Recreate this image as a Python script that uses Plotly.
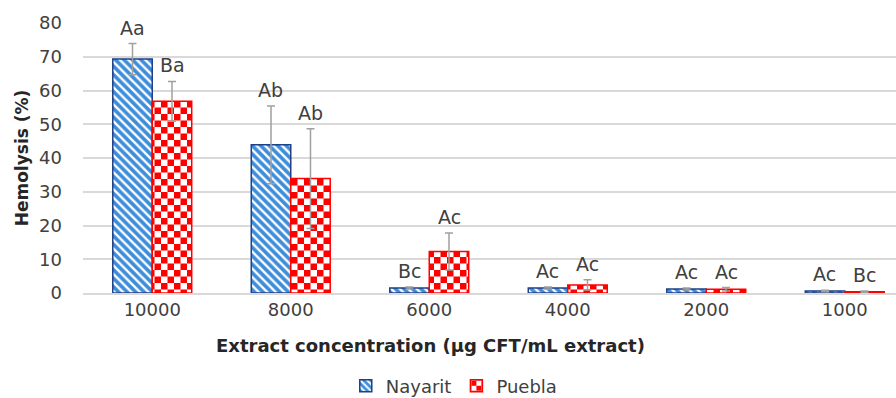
import plotly.graph_objects as go

categories = ["10000", "8000", "6000", "4000", "2000", "1000"]
nayarit = [69.3, 43.9, 1.5, 1.5, 1.2, 0.6]
nayarit_err = [4.6, 11.5, 0.3, 0.3, 0.3, 0.2]
nayarit_letters = ["Aa", "Ab", "Bc", "Ac", "Ac", "Ac"]
puebla = [56.8, 33.9, 12.3, 2.4, 1.1, 0.4]
puebla_err = [5.9, 14.8, 5.5, 1.5, 0.5, 0.2]
puebla_letters = ["Ba", "Ab", "Ac", "Ac", "Ac", "Bc"]
y_ticks = [0, 10, 20, 30, 40, 50, 60, 70, 80]

FONT = "DejaVu Sans, Arial, sans-serif"

fig = go.Figure()
fig.add_trace(go.Bar(
    name="Nayarit", x=categories, y=nayarit,
    error_y=dict(type="data", array=nayarit_err, color="#a0a0a0", thickness=1.5, width=4),
    marker=dict(
        color="#3d8ddb",
        line=dict(color="#1f3f86", width=1.5),
        pattern=dict(shape="\\", fgcolor="#ffffff", bgcolor="#3d8ddb", size=6, solidity=0.4, fillmode="replace"),
    ),
))
fig.add_trace(go.Bar(
    name="Puebla", x=categories, y=puebla,
    error_y=dict(type="data", array=puebla_err, color="#a0a0a0", thickness=1.5, width=4),
    marker=dict(
        color="#ff0000",
        line=dict(color="#ff0000", width=1.5),
        pattern=dict(shape=".", fgcolor="#ff0000", bgcolor="#ffffff", size=9, solidity=0.5, fillmode="replace"),
    ),
))

annotations = []
for i, (v, e, t) in enumerate(zip(nayarit, nayarit_err, nayarit_letters)):
    annotations.append(dict(x=i, y=v + e, xref="x", yref="y", text=t, showarrow=False,
                            xshift=-20, yshift=3, yanchor="bottom",
                            font=dict(family=FONT, size=19, color="#404040")))
for i, (v, e, t) in enumerate(zip(puebla, puebla_err, puebla_letters)):
    annotations.append(dict(x=i, y=v + e, xref="x", yref="y", text=t, showarrow=False,
                            xshift=20, yshift=3, yanchor="bottom",
                            font=dict(family=FONT, size=19, color="#404040")))
annotations.append(dict(x=0.428, y=-0.196, xref="paper", yref="paper", yanchor="middle",
                        text="<b>Extract concentration (µg CFT/mL extract)</b>", showarrow=False,
                        font=dict(family=FONT, size=18, color="#262626")))

fig.update_layout(
    width=896, height=398,
    margin=dict(l=83, r=0, t=23, b=105),
    paper_bgcolor="white", plot_bgcolor="white",
    barmode="group", bargap=0.43, bargroupgap=0,
    font=dict(family=FONT, size=18, color="#404040"),
    showlegend=True,
    annotations=annotations,
    legend=dict(orientation="h", xref="container", yref="container",
                x=0.507, xanchor="center", y=0.03, yanchor="middle",
                font=dict(family=FONT, size=18, color="#404040"), tracegroupgap=0),
    xaxis=dict(
        type="category", automargin=False,
        range=[-0.5, 5.37], showgrid=False, showline=True, linecolor="#d9d9d9", linewidth=1.5,
        ticks="", tickfont=dict(family=FONT, size=18, color="#404040"),
    ),
    yaxis=dict(
        automargin=False,
        range=[0, 80], tickvals=y_ticks, showgrid=True, gridcolor="#d9d9d9", gridwidth=1.5,
        zeroline=False, showline=False, ticks="", ticklabelstandoff=20,
        tickfont=dict(family=FONT, size=18, color="#404040"),
        title=dict(text="<b>Hemolysis (%)</b>", standoff=6,
                   font=dict(family=FONT, size=17, color="#262626")),
    ),
)

post = """
document.body.style.margin = '0';
document.body.style.overflow = 'hidden';
var gd = document.getElementById('{plot_id}');
function checker(){
  var ns = 'http://www.w3.org/2000/svg';
  gd.querySelectorAll('pattern').forEach(function(p){
    var isRed = false;
    p.querySelectorAll('path,circle').forEach(function(c){
      var f = (c.getAttribute('fill') || '') + (c.style.fill || '');
      if (f.indexOf('255, 0, 0') >= 0 || f.toLowerCase().indexOf('ff0000') >= 0) isRed = true;
    });
    if (!isRed) return;
    var s = 13, h = 6.5;
    p.setAttribute('width', s); p.setAttribute('height', s);
    while (p.firstChild) p.removeChild(p.firstChild);
    var bg = document.createElementNS(ns, 'rect');
    bg.setAttribute('x', 0); bg.setAttribute('y', 0); bg.setAttribute('width', s); bg.setAttribute('height', s);
    bg.setAttribute('fill', '#ffffff'); p.appendChild(bg);
    [[0,0],[h,h]].forEach(function(o){
      var r = document.createElementNS(ns, 'rect');
      r.setAttribute('x', o[0]); r.setAttribute('y', o[1]); r.setAttribute('width', h); r.setAttribute('height', h);
      r.setAttribute('fill', '#ff0000'); p.appendChild(r);
    });
  });
}
checker();
"""
fig.write_html("out.html", post_script=post, config={"displayModeBar": False})
